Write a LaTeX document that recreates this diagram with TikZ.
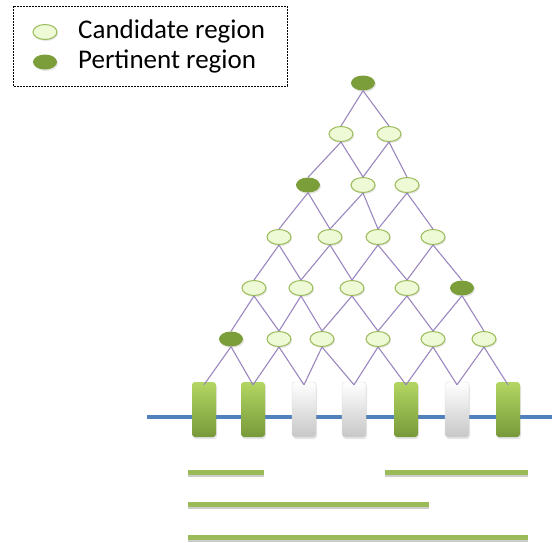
\documentclass[tikz,border=0pt]{standalone}
\usepackage{fontspec}
\setmainfont{Carlito}
\usetikzlibrary{shapes.geometric,shadows}

\definecolor{leafgreen}{HTML}{9BBB59}
\definecolor{darkleaf}{HTML}{7C9E3A}
\definecolor{paleleaf}{HTML}{EEF9D6}
\definecolor{barlight}{HTML}{B2D662}
\definecolor{bardark}{HTML}{78993A}
\definecolor{linkpurple}{HTML}{9B87BF}
\definecolor{axisblue}{HTML}{4F81BD}

\tikzset{
  region/.style={ellipse,minimum width=24pt,minimum height=15pt,inner sep=0pt,
    drop shadow={opacity=0.2,shadow xshift=1pt,shadow yshift=-1.5pt}},
  candidate/.style={region,draw=leafgreen,line width=1pt,fill=paleleaf},
  pertinent/.style={region,fill=darkleaf},
  link/.style={linkpurple,line width=1.1pt},
  segment/.style={rectangle,rounded corners=3pt,minimum width=24pt,minimum height=55pt,inner sep=0pt,
    drop shadow={opacity=0.2,shadow xshift=1pt,shadow yshift=-2pt}},
  kept/.style={segment,top color=barlight,middle color=leafgreen!90!black,bottom color=bardark},
  dropped/.style={segment,draw=black!15,top color=white,middle color=black!6,bottom color=black!22},
  span/.style={leafgreen,line width=5pt,
    preaction={draw=black,opacity=0.2,line width=5pt,transform canvas={yshift=-2pt}}},
  legendtext/.style={anchor=west,inner sep=0pt,font=\fontsize{27}{31}\selectfont}
}

\begin{document}
\begin{tikzpicture}[x=1pt,y=-1pt]
\useasboundingbox (0,0) rectangle (552,542);

% legend
\draw[dash pattern=on 2pt off 1pt,line width=0.8pt] (13,6) rectangle (287,86);
\node[candidate] (key-c) at (45,32) {};
\node[pertinent] (key-p) at (45,62) {};
\node[legendtext] (key-ct) at (78,31) {Candidate region};
\node[legendtext] (key-pt) at (78,61) {Pertinent region};

% sequence axis and segments
\coordinate (axis-l) at (147,417);
\coordinate (axis-r) at (552,417);
\draw[axisblue,line width=3.5pt] (axis-l) -- (axis-r);
\foreach \x/\s [count=\i] in {204/kept,253/kept,304/dropped,354/dropped,406/kept,457/dropped,508/kept}
  \node[\s] (b-\i) at (\x,409.5) {};

% lattice of regions
\node[pertinent] (n-0-1) at (363,83) {};
\foreach \x/\s [count=\i] in {341/candidate,389/candidate}
  \node[\s] (n-1-\i) at (\x,134) {};
\foreach \x/\s [count=\i] in {308/pertinent,363/candidate,407/candidate}
  \node[\s] (n-2-\i) at (\x,185) {};
\foreach \x/\s [count=\i] in {279/candidate,330/candidate,378/candidate,433/candidate}
  \node[\s] (n-3-\i) at (\x,237) {};
\foreach \x/\s [count=\i] in {254/candidate,301/candidate,352/candidate,407/candidate,462/pertinent}
  \node[\s] (n-4-\i) at (\x,288) {};
\foreach \x/\s [count=\i] in {231/pertinent,279/candidate,322/candidate,378/candidate,433/candidate,484/candidate}
  \node[\s] (n-5-\i) at (\x,339) {};

% links between rows
\foreach \r in {0,...,4}
  \foreach \i in {0,...,\r} {
    \pgfmathtruncatemacro{\a}{\i+1}
    \pgfmathtruncatemacro{\b}{\i+2}
    \pgfmathtruncatemacro{\s}{\r+1}
    \draw[link] (n-\r-\a.south) -- (n-\s-\a.north);
    \draw[link] (n-\r-\a.south) -- (n-\s-\b.north);
  }
\foreach \i in {1,...,6} {
  \pgfmathtruncatemacro{\b}{\i+1}
  \draw[link] (n-5-\i.south) -- ([yshift=-3pt]b-\i.north);
  \draw[link] (n-5-\i.south) -- ([yshift=-3pt]b-\b.north);
}

% resulting spans
\draw[span] (188,472) -- (264,472);
\draw[span] (385,472) -- (528,472);
\draw[span] (188,504) -- (429,504);
\draw[span] (188,537) -- (528,537);
\end{tikzpicture}
\end{document}
